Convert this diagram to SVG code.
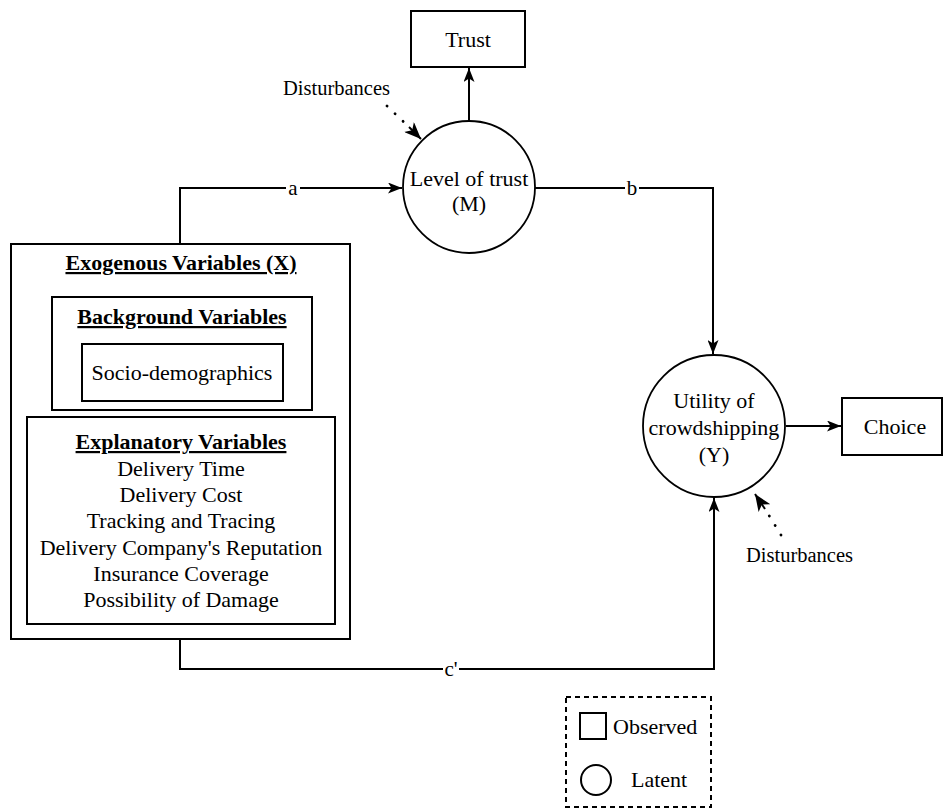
<svg xmlns="http://www.w3.org/2000/svg" width="945" height="809" viewBox="0 0 945 809">
<style>
text{font-family:"Liberation Serif","Times New Roman",serif;font-size:22px;fill:#000;text-anchor:middle}
.box{fill:#fff;stroke:#000;stroke-width:2}
.circ{fill:#fff;stroke:#000;stroke-width:1.8}
.edge{fill:none;stroke:#000;stroke-width:2}
.dot{fill:none;stroke:#000;stroke-width:2.8;stroke-linecap:round;stroke-dasharray:0.1 11}
.hd{font-weight:bold;text-decoration:underline}
.lbl{font-size:21px}
.dist{font-size:20.5px;text-anchor:start}
</style>
<defs>
<marker id="arr" viewBox="0 0 14 11" refX="14" refY="5.5" markerWidth="14" markerHeight="11" markerUnits="userSpaceOnUse" orient="auto">
<path d="M0,0 L14,5.5 L0,11 L3.5,5.5 Z" fill="#000"/>
</marker>
<marker id="arrb" viewBox="0 0 17 14" refX="17" refY="7" markerWidth="17" markerHeight="14" markerUnits="userSpaceOnUse" orient="auto">
<path d="M0,0 L17,7 L0,14 L4.5,7 Z" fill="#000"/>
</marker>
</defs>
<rect width="945" height="809" fill="#fff"/>

<g id="connectors">
<path class="edge" d="M180,244 V188 H402" marker-end="url(#arr)"/>
<path class="edge" d="M535,188 H713 V354" marker-end="url(#arr)"/>
<path class="edge" d="M180,639 V669 H714 V498" marker-end="url(#arr)"/>
<path class="edge" d="M469,120 V68" marker-end="url(#arr)"/>
<path class="edge" d="M786,426 H841" marker-end="url(#arr)"/>
<path class="dot" d="M387,106 L409,127"/>
<path d="M409,127 L421,139" class="edge" stroke-width="1.5" marker-end="url(#arrb)"/>
<path class="dot" d="M781,535 L765,509"/>
<path d="M765,509 L755,494" class="edge" stroke-width="1.5" marker-end="url(#arrb)"/>
<rect x="286" y="178" width="14" height="22" fill="#fff"/>
<text class="lbl" x="293" y="195">a</text>
<rect x="625" y="178" width="14" height="22" fill="#fff"/>
<text class="lbl" x="632" y="195">b</text>
<rect x="443" y="658" width="16" height="22" fill="#fff"/>
<text class="lbl" x="451" y="676">c'</text>
</g>

<g id="trust">
<rect class="box" x="411" y="11" width="114" height="56"/>
<text x="468" y="47">Trust</text>
</g>

<g id="dist-m">
<text class="dist" x="283" y="95">Disturbances</text>
</g>

<g id="level-of-trust">
<circle class="circ" cx="469" cy="187" r="66"/>
<text x="469" y="186">Level of trust</text>
<text x="469" y="211">(M)</text>
</g>

<g id="exogenous">
<rect class="box" x="11" y="244" width="339" height="395"/>
<text class="hd" x="181" y="270">Exogenous Variables (X)</text>
</g>

<g id="background">
<rect class="box" x="52" y="297" width="260" height="113"/>
<text class="hd" x="182" y="324">Background Variables</text>
</g>

<g id="socio">
<rect class="box" x="82" y="344" width="201" height="57"/>
<text x="182" y="380">Socio-demographics</text>
</g>

<g id="explanatory">
<rect class="box" x="27" y="417" width="308" height="207"/>
<text class="hd" x="181" y="449">Explanatory Variables</text>
<text x="181" y="476">Delivery Time</text>
<text x="181" y="502">Delivery Cost</text>
<text x="181" y="528">Tracking and Tracing</text>
<text x="181" y="555">Delivery Company's Reputation</text>
<text x="181" y="581">Insurance Coverage</text>
<text x="181" y="607">Possibility of Damage</text>
</g>

<g id="utility">
<circle class="circ" cx="714" cy="426" r="71"/>
<text x="714" y="408">Utility of</text>
<text x="714" y="435">crowdshipping</text>
<text x="714" y="462">(Y)</text>
</g>

<g id="choice">
<rect class="box" x="842" y="398" width="100" height="57"/>
<text x="895" y="434">Choice</text>
</g>

<g id="dist-y">
<text class="dist" x="746" y="562">Disturbances</text>
</g>

<g id="legend">
<rect x="566" y="697" width="145" height="110" fill="none" stroke="#000" stroke-width="2" stroke-dasharray="5 4"/>
<rect x="580" y="713" width="26" height="26" fill="none" stroke="#000" stroke-width="2"/>
<text x="613" y="734" style="text-anchor:start">Observed</text>
<circle cx="596" cy="780" r="15" fill="none" stroke="#000" stroke-width="2"/>
<text x="631" y="787" style="text-anchor:start">Latent</text>
</g>
</svg>
